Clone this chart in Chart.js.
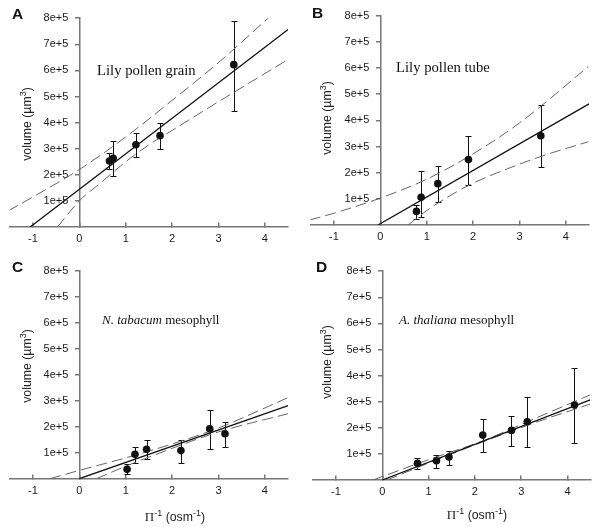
<!DOCTYPE html>
<html>
<head>
<meta charset="utf-8">
<script src="https://cdn.jsdelivr.net/npm/chart.js@4.4.1/dist/chart.umd.min.js"></script>
<style>
  body { margin: 0; background: #fff; width: 600px; height: 527px; position: relative; overflow: hidden;
         font-family: "Liberation Sans", Arial, sans-serif; color: #111; }
  .panel { position: absolute; }
  .lbl { position: absolute; white-space: nowrap; line-height: 1; }
  .letter { font-weight: bold; font-size: 15.5px; }
  .ttl { font-family: "Liberation Serif", "Times New Roman", serif; }
  .ytitle { font-size: 12.3px; width: 120px; height: 14px; line-height: 14px; text-align: center;
            transform: rotate(-90deg); color: #222; }
  .xtitle { font-size: 12.3px; width: 120px; height: 14px; line-height: 14px; text-align: center; color: #222; }
  .sup { font-size: 9px; position: relative; top: -5px; line-height: 0; }
  .pi { font-family: "Liberation Serif", "Times New Roman", serif; font-size: 13px; }
</style>
</head>
<body>

<div class="panel" style="left:0;top:0"><canvas id="chartA" width="300" height="260"></canvas></div>
<div class="panel" style="left:300px;top:0"><canvas id="chartB" width="300" height="260"></canvas></div>
<div class="panel" style="left:0;top:255px"><canvas id="chartC" width="300" height="272"></canvas></div>
<div class="panel" style="left:300px;top:255px"><canvas id="chartD" width="300" height="272"></canvas></div>

<div class="lbl letter" style="left:12px;top:6px">A</div>
<div class="lbl letter" style="left:312px;top:5px">B</div>
<div class="lbl letter" style="left:12px;top:259px">C</div>
<div class="lbl letter" style="left:316px;top:259px">D</div>

<div class="lbl ttl" style="left:97px;top:62.7px;font-size:14.7px">Lily pollen grain</div>
<div class="lbl ttl" style="left:396px;top:60.4px;font-size:14.7px">Lily pollen tube</div>
<div class="lbl ttl" style="left:102px;top:313px;font-size:13px"><i>N. tabacum</i> mesophyll</div>
<div class="lbl ttl" style="left:399px;top:313px;font-size:13px"><i>A. thaliana</i> mesophyll</div>

<div class="lbl ytitle" style="left:-33px;top:116.5px">volume (µm<span class="sup">3</span>)</div>
<div class="lbl ytitle" style="left:267px;top:111px">volume (µm<span class="sup">3</span>)</div>
<div class="lbl ytitle" style="left:-33px;top:359px">volume (µm<span class="sup">3</span>)</div>
<div class="lbl ytitle" style="left:267px;top:355px">volume (µm<span class="sup">3</span>)</div>

<div class="lbl xtitle" style="left:115px;top:510px"><span class="pi">Π</span><span class="sup">-1</span> (osm<span class="sup">-1</span>)</div>
<div class="lbl xtitle" style="left:417px;top:508px"><span class="pi">Π</span><span class="sup">-1</span> (osm<span class="sup">-1</span>)</div>

<script>
// axes: x = 1/osmotic pressure (osm^-1), y = volume (um^3)
var xTicks = [-1, 0, 1, 2, 3, 4];
var yTicks = [1e5, 2e5, 3e5, 4e5, 5e5, 6e5, 7e5, 8e5];
var yTickLabels = ['1e+5', '2e+5', '3e+5', '4e+5', '5e+5', '6e+5', '7e+5', '8e+5'];

// A - lily pollen grain
var grainX  = [0.65, 0.73, 1.22, 1.74, 3.33];
var grainY  = [2.53e5, 2.63e5, 3.15e5, 3.50e5, 6.22e5];
var grainLo = [2.21e5, 1.95e5, 2.69e5, 2.98e5, 4.46e5];
var grainHi = [2.82e5, 3.31e5, 3.59e5, 3.97e5, 7.90e5];
var grainFitX = [-1.06, 4.5];
var grainFitY = [0, 7.57e5];
var grainUpX  = [-1.53, -1, 0, 1, 2, 3, 4.1];
var grainUpY  = [0.62e5, 1.15e5, 2.2e5, 3.45e5, 4.85e5, 6.3e5, 8.05e5];
var grainLowX = [-0.47, 0, 0.5, 1, 1.5, 2, 3, 4.5];
var grainLowY = [0, 1.0e5, 1.75e5, 2.5e5, 3.15e5, 3.7e5, 4.8e5, 6.42e5];

// B - lily pollen tube
var tubeX  = [0.78, 0.88, 1.24, 1.90, 3.46];
var tubeY  = [0.52e5, 1.06e5, 1.58e5, 2.50e5, 3.41e5];
var tubeLo = [0.22e5, 0.32e5, 0.87e5, 1.53e5, 2.22e5];
var tubeHi = [0.78e5, 2.05e5, 2.27e5, 3.41e5, 4.58e5];
var tubeFitX = [-0.05, 4.5];
var tubeFitY = [0, 4.63e5];
var tubeUpX  = [-1.52, -1, 0, 1, 2, 3, 4.48];
var tubeUpY  = [0.19e5, 0.45e5, 1.03e5, 1.75e5, 2.72e5, 3.9e5, 6.05e5];
var tubeLowX = [0.6, 1.0, 1.5, 2.0, 2.5, 3.46, 4.48];
var tubeLowY = [0, 0.55e5, 1.12e5, 1.6e5, 1.98e5, 2.62e5, 3.18e5];

// C - N. tabacum mesophyll
var tabX  = [1.03, 1.20, 1.45, 2.19, 2.81, 3.14];
var tabY  = [0.36e5, 0.94e5, 1.13e5, 1.08e5, 1.92e5, 1.73e5];
var tabLo = [0.18e5, 0.62e5, 0.75e5, 0.62e5, 1.13e5, 1.21e5];
var tabHi = [0.57e5, 1.23e5, 1.49e5, 1.49e5, 2.65e5, 2.18e5];
var tabFitX = [0, 4.5];
var tabFitY = [0, 2.81e5];
var tabUpX  = [-0.63, 0, 1, 2.2, 3, 4.5];
var tabUpY  = [0, 0.32e5, 0.8e5, 1.45e5, 1.95e5, 3.12e5];
var tabLowX = [0.37, 1, 2.2, 3, 4.5];
var tabLowY = [0, 0.48e5, 1.3e5, 1.8e5, 2.5e5];

// D - A. thaliana mesophyll
var thalX  = [0.76, 1.17, 1.44, 2.17, 2.79, 3.13, 4.15];
var thalY  = [0.64e5, 0.74e5, 0.88e5, 1.72e5, 1.90e5, 2.23e5, 2.87e5];
var thalLo = [0.42e5, 0.46e5, 0.56e5, 1.07e5, 1.31e5, 1.28e5, 1.42e5];
var thalHi = [0.83e5, 0.97e5, 1.11e5, 2.32e5, 2.45e5, 3.18e5, 4.28e5];
var thalFitX = [0, 4.49];
var thalFitY = [0, 3.07e5];
var thalUpX  = [-0.2, 1, 2.2, 3.3, 4.49];
var thalUpY  = [0, 0.78e5, 1.52e5, 2.36e5, 3.26e5];
var thalLowX = [0.1, 1, 2.2, 3.3, 4.49];
var thalLowY = [0, 0.65e5, 1.48e5, 2.2e5, 2.91e5];

var axisColor = '#777';
var labelColor = '#1a1a1a';

function xy(xs, ys) {
  return xs.map(function (x, i) { return { x: x, y: ys[i] }; });
}

// vertical error bars with caps, drawn under the points
var errorBars = {
  id: 'errorBars',
  beforeDatasetsDraw: function (chart) {
    var ds = chart.data.datasets[0];
    var xs = chart.scales.x, ys = chart.scales.y, ctx = chart.ctx;
    ctx.save();
    ctx.strokeStyle = '#111';
    ctx.lineWidth = 1;
    ds.data.forEach(function (p, i) {
      var px = Math.round(xs.getPixelForValue(p.x)) + 0.5;
      var top = Math.round(ys.getPixelForValue(ds.errHi[i])) + 0.5;
      var bot = Math.round(ys.getPixelForValue(ds.errLo[i])) + 0.5;
      ctx.beginPath();
      ctx.moveTo(px, top); ctx.lineTo(px, bot);
      ctx.moveTo(px - 3, top); ctx.lineTo(px + 3, top);
      ctx.moveTo(px - 3, bot); ctx.lineTo(px + 3, bot);
      ctx.stroke();
    });
    ctx.restore();
  }
};

function makePanel(id, pad, pts, lo, hi, fit, up, low) {
  var dashed = { type: 'line', borderColor: '#666', borderWidth: 1, borderDash: [11, 5],
                 pointRadius: 0, fill: false, cubicInterpolationMode: 'monotone' };
  new Chart(document.getElementById(id), {
    type: 'scatter',
    data: {
      datasets: [
        { data: pts, errLo: lo, errHi: hi, pointRadius: 3.8, pointHoverRadius: 3.8,
          backgroundColor: '#111', borderColor: '#111', borderWidth: 0 },
        { type: 'line', data: fit, borderColor: '#111', borderWidth: 1.3, pointRadius: 0, fill: false },
        Object.assign({ data: up }, dashed),
        Object.assign({ data: low }, dashed)
      ]
    },
    options: {
      responsive: false,
      animation: false,
      devicePixelRatio: 1,
      layout: { padding: pad },
      plugins: { legend: { display: false }, tooltip: { enabled: false } },
      scales: {
        x: {
          type: 'linear', min: -1.5, max: 4.5,
          position: { y: 0 },
          afterFit: function (s) { s.height = 0; },
          afterBuildTicks: function (s) { s.ticks = xTicks.map(function (v) { return { value: v }; }); },
          border: { color: axisColor, width: 1.5 },
          grid: { drawOnChartArea: false, color: axisColor, lineWidth: 1.5, tickLength: -5 },
          ticks: { autoSkip: false, maxRotation: 0, padding: 10.4, color: labelColor,
                   font: { size: 11, family: '"Liberation Sans", Arial, sans-serif' },
                   callback: function (v) { return String(v); } }
        },
        y: {
          type: 'linear', min: 0, max: 8e5,
          position: { x: 0 },
          afterFit: function (s) { s.width = 0; },
          afterBuildTicks: function (s) { s.ticks = yTicks.map(function (v) { return { value: v }; }); },
          border: { color: axisColor, width: 1.5 },
          grid: { drawOnChartArea: false, color: axisColor, lineWidth: 1.5, tickLength: 4 },
          ticks: { autoSkip: false, color: labelColor,
                   font: { size: 11, family: '"Liberation Sans", Arial, sans-serif' },
                   callback: function (v) { return yTickLabels[yTicks.indexOf(v)] + '\u2003'; } }
        }
      }
    },
    plugins: [errorBars]
  });
}

makePanel('chartA', { left: 9.7, right: 11.9, top: 18.2, bottom: 33 },
  xy(grainX, grainY), grainLo, grainHi, xy(grainFitX, grainFitY), xy(grainUpX, grainUpY), xy(grainLowX, grainLowY));
makePanel('chartB', { left: 10.7, right: 10.9, top: 15.7, bottom: 35 },
  xy(tubeX, tubeY), tubeLo, tubeHi, xy(tubeFitX, tubeFitY), xy(tubeUpX, tubeUpY), xy(tubeLowX, tubeLowY));
makePanel('chartC', { left: 9.7, right: 11.9, top: 15.7, bottom: 48.3 },
  xy(tabX, tabY), tabLo, tabHi, xy(tabFitX, tabFitY), xy(tabUpX, tabUpY), xy(tabLowX, tabLowY));
makePanel('chartD', { left: 12.8, right: 9.3, top: 16.2, bottom: 47 },
  xy(thalX, thalY), thalLo, thalHi, xy(thalFitX, thalFitY), xy(thalUpX, thalUpY), xy(thalLowX, thalLowY));
</script>
</body>
</html>
